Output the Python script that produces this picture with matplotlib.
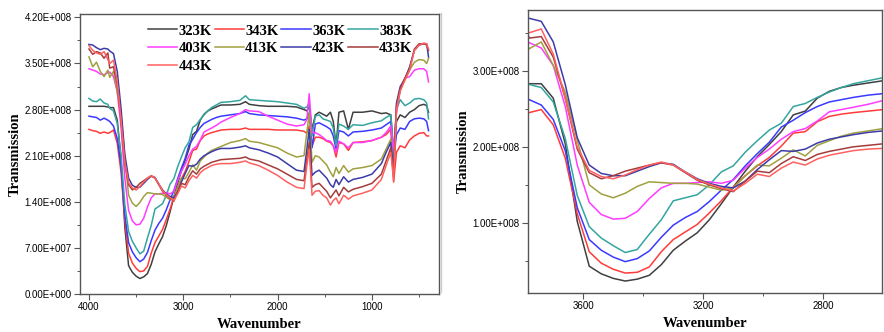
import matplotlib
matplotlib.use("Agg")
import matplotlib.pyplot as plt
from matplotlib.ticker import FixedLocator, FuncFormatter
from matplotlib.lines import Line2D

SCALE = 1e8
wavenumber = [4000, 3960, 3920, 3880, 3840, 3800,
              3780, 3740, 3700, 3660, 3620, 3580, 3540, 3500, 3460, 3420, 3380, 3340, 3300, 3260,
              3220, 3180, 3140, 3100, 3060, 3020, 2980, 2940, 2900, 2860, 2820, 2780, 2740, 2700, 2650, 2600,
              2500, 2400, 2340, 2300, 2200, 2100, 2000, 1900, 1800, 1720, 1690, 1665, 1635, 1600,
              1560, 1520, 1480, 1440, 1410, 1380, 1350, 1300, 1250, 1200, 1100, 1000, 900, 850, 800,
              770, 740, 700, 650, 600, 550, 500, 450, 420, 400]

t323 = [2.85, 2.85, 2.85, 2.85, 2.85, 2.84,
        2.83, 2.83, 2.64, 2.04, 1.02, 0.43, 0.33, 0.27, 0.235, 0.26, 0.31, 0.45, 0.64, 0.76,
        0.87, 1.04, 1.25, 1.47, 1.68, 1.87, 2.03, 2.20, 2.42, 2.47, 2.64, 2.73, 2.78, 2.81, 2.84, 2.87,
        2.87, 2.88, 2.92, 2.88, 2.86, 2.85, 2.85, 2.85, 2.84, 2.80, 2.78, 2.85, 2.50, 2.72,
        2.76, 2.73, 2.70, 2.76, 2.62, 2.25, 2.76, 2.78, 2.50, 2.76, 2.76, 2.78, 2.74, 2.75, 2.72,
        2.15, 2.62, 2.72, 2.68, 2.76, 2.80, 2.86, 2.88, 2.86, 2.76]
t343 = [2.50, 2.48, 2.47, 2.44, 2.46, 2.44,
        2.45, 2.49, 2.29, 1.85, 1.12, 0.62, 0.47, 0.39, 0.34, 0.35, 0.42, 0.62, 0.78, 0.88,
        0.98, 1.13, 1.29, 1.47, 1.62, 1.75, 1.86, 2.01, 2.18, 2.20, 2.33, 2.40, 2.43, 2.45, 2.47, 2.49,
        2.50, 2.50, 2.52, 2.50, 2.50, 2.50, 2.49, 2.49, 2.49, 2.47, 2.44, 2.55, 2.25, 2.38,
        2.38, 2.36, 2.32, 2.30, 2.25, 2.08, 2.30, 2.28, 2.18, 2.30, 2.31, 2.33, 2.38, 2.42, 2.50,
        1.70, 2.15, 2.25, 2.22, 2.34, 2.40, 2.44, 2.45, 2.40, 2.40]
t363 = [2.70, 2.69, 2.68, 2.64, 2.67, 2.64,
        2.62, 2.55, 2.36, 1.95, 1.20, 0.78, 0.64, 0.55, 0.49, 0.53, 0.63, 0.81, 0.97, 1.07,
        1.15, 1.28, 1.43, 1.57, 1.75, 1.91, 2.06, 2.26, 2.35, 2.45, 2.53, 2.59, 2.62, 2.65, 2.68, 2.70,
        2.72, 2.74, 2.77, 2.74, 2.72, 2.71, 2.70, 2.69, 2.67, 2.64, 2.66, 2.75, 2.22, 2.58,
        2.60, 2.57, 2.54, 2.50, 2.40, 2.20, 2.48, 2.46, 2.40, 2.46, 2.47, 2.49, 2.52, 2.57, 2.62,
        2.05, 2.42, 2.52, 2.50, 2.62, 2.66, 2.67, 2.66, 2.62, 2.48]
t383 = [2.97, 2.93, 2.92, 2.96, 2.90, 2.88,
        2.82, 2.78, 2.59, 2.11, 1.36, 0.95, 0.80, 0.70, 0.61, 0.65, 0.85, 1.04, 1.29, 1.33,
        1.37, 1.50, 1.67, 1.75, 1.93, 2.08, 2.22, 2.31, 2.53, 2.57, 2.65, 2.72, 2.78, 2.83, 2.87, 2.91,
        2.92, 2.94, 3.01, 2.95, 2.94, 2.93, 2.92, 2.90, 2.88, 2.82, 2.84, 2.90, 2.40, 2.70,
        2.72, 2.66, 2.64, 2.62, 2.52, 2.25, 2.58, 2.55, 2.50, 2.57, 2.56, 2.60, 2.63, 2.68, 2.72,
        2.12, 2.80, 2.95, 2.86, 2.90, 2.96, 2.97, 2.95, 2.90, 2.66]
t403 = [3.42, 3.40, 3.38, 3.34, 3.33, 3.36,
        3.37, 3.30, 3.07, 2.53, 1.76, 1.27, 1.11, 1.05, 1.06, 1.15, 1.32, 1.46, 1.52, 1.52,
        1.53, 1.54, 1.52, 1.56, 1.72, 1.86, 1.97, 2.10, 2.20, 2.24, 2.34, 2.46, 2.49, 2.52, 2.56, 2.61,
        2.68, 2.74, 2.80, 2.78, 2.77, 2.70, 2.64, 2.58, 2.55, 2.57, 2.65, 3.04, 2.45, 2.45,
        2.42, 2.38, 2.33, 2.32, 2.25, 2.15, 2.32, 2.28, 2.22, 2.30, 2.30, 2.33, 2.38, 2.45, 2.55,
        2.15, 2.75, 3.10, 3.28, 3.30, 3.40, 3.42, 3.42, 3.38, 3.22]
t413 = [3.60, 3.45, 3.52, 3.38, 3.30, 3.40,
        3.29, 3.38, 3.07, 2.72, 2.09, 1.50, 1.38, 1.33, 1.39, 1.48, 1.54, 1.53, 1.52, 1.52,
        1.51, 1.47, 1.43, 1.46, 1.62, 1.76, 1.75, 1.85, 1.96, 1.88, 2.02, 2.08, 2.14, 2.18, 2.21, 2.24,
        2.30, 2.33, 2.36, 2.32, 2.30, 2.26, 2.22, 2.14, 2.08, 2.10, 2.45, 2.75, 2.00, 2.10,
        2.08, 2.02, 1.96, 1.85, 1.78, 1.92, 1.83, 1.95, 1.85, 1.90, 1.92, 1.95, 2.05, 2.20, 2.35,
        1.90, 2.80, 3.10, 3.25, 3.40, 3.52, 3.56, 3.55, 3.50, 3.58]
t423 = [3.79, 3.78, 3.74, 3.71, 3.73, 3.72,
        3.69, 3.65, 3.38, 2.82, 2.12, 1.76, 1.65, 1.62, 1.62, 1.68, 1.74, 1.79, 1.77, 1.67,
        1.58, 1.52, 1.48, 1.46, 1.55, 1.70, 1.83, 1.95, 1.94, 1.97, 2.05, 2.10, 2.13, 2.16, 2.19, 2.21,
        2.21, 2.23, 2.25, 2.22, 2.19, 2.14, 2.08, 1.98, 1.88, 1.86, 2.20, 2.50, 1.80, 1.85,
        1.88, 1.82, 1.76, 1.66, 1.62, 1.74, 1.66, 1.78, 1.70, 1.74, 1.77, 1.82, 1.98, 2.15, 2.30,
        1.85, 2.90, 3.15, 3.27, 3.45, 3.70, 3.78, 3.80, 3.80, 3.60]
t433 = [3.72, 3.64, 3.68, 3.66, 3.58, 3.66,
        3.43, 3.45, 3.18, 2.64, 1.97, 1.66, 1.58, 1.62, 1.68, 1.72, 1.76, 1.79, 1.76, 1.66,
        1.56, 1.50, 1.45, 1.41, 1.55, 1.68, 1.66, 1.78, 1.87, 1.82, 1.90, 1.94, 1.97, 2.00, 2.02, 2.04,
        2.05, 2.06, 2.08, 2.05, 2.02, 1.96, 1.90, 1.82, 1.74, 1.72, 2.05, 2.30, 1.62, 1.66,
        1.68, 1.62, 1.56, 1.46, 1.52, 1.58, 1.49, 1.62, 1.55, 1.59, 1.63, 1.68, 1.82, 2.02, 2.22,
        1.78, 2.85, 3.12, 3.28, 3.42, 3.72, 3.80, 3.80, 3.78, 3.70]
t443 = [3.77, 3.70, 3.66, 3.64, 3.68, 3.56,
        3.50, 3.55, 3.22, 2.64, 2.00, 1.69, 1.61, 1.58, 1.63, 1.70, 1.76, 1.80, 1.76, 1.67,
        1.57, 1.51, 1.46, 1.42, 1.52, 1.64, 1.61, 1.72, 1.80, 1.76, 1.84, 1.89, 1.92, 1.95, 1.97, 1.98,
        1.98, 2.00, 2.02, 1.99, 1.95, 1.88, 1.80, 1.70, 1.62, 1.60, 1.95, 2.20, 1.50, 1.56,
        1.57, 1.50, 1.46, 1.35, 1.42, 1.46, 1.37, 1.50, 1.44, 1.49, 1.53, 1.58, 1.74, 1.95, 2.15,
        1.72, 2.80, 3.08, 3.25, 3.40, 3.70, 3.78, 3.81, 3.80, 3.72]

labels = ["323K", "343K", "363K", "383K", "403K", "413K", "423K", "433K", "443K"]
series = [t323, t343, t363, t383, t403, t413, t423, t433, t443]
colors = ["#404040", "#ff3b3b", "#3a3aff", "#35a5a0", "#ff3cff", "#a0a040", "#3c3ca8", "#a53c3c", "#ff6060"]

left_yticks = [0.0, 0.7, 1.4, 2.1, 2.8, 3.5, 4.2]
left_xticks = [4000, 3000, 2000, 1000]
right_yticks = [1.0, 2.0, 3.0]
right_xticks = [3600, 3200, 2800]

def sci_fmt(v, pos):
    if v == 0:
        return "0.00E+000"
    e = 0
    m = abs(v)
    while m >= 10:
        m /= 10
        e += 1
    while m < 1:
        m *= 10
        e -= 1
    return f"{m:.2f}E+{e:03d}"

fig = plt.figure(figsize=(8.84, 3.32), dpi=100)
ax1 = fig.add_axes([0.0905, 0.1145, 0.406, 0.843])
ax2 = fig.add_axes([0.597, 0.118, 0.4005, 0.852])

handles = []
for ys, lab, c in zip(series, labels, colors):
    vals = [y * SCALE for y in ys]
    h, = ax1.plot(wavenumber, vals, color=c, lw=1.1, label=lab)
    ax2.plot(wavenumber, vals, color=c, lw=1.1)
    handles.append(h)

labfont = dict(family="Liberation Serif", weight="bold", size=10.5)

ax1.set_xlim(4095, 290)
ax1.set_ylim(0, 4.25e8)
ax1.yaxis.set_major_locator(FixedLocator([v * SCALE for v in left_yticks]))
ax1.yaxis.set_minor_locator(FixedLocator([(v + 0.35) * SCALE for v in left_yticks[:-1]]))
ax1.xaxis.set_major_locator(FixedLocator(left_xticks))
ax1.xaxis.set_minor_locator(FixedLocator([3500, 2500, 1500, 500]))
ax1.set_ylabel("Transmission", **labfont, labelpad=2)
ax1.set_xlabel("Wavenumber", **labfont, labelpad=4)

ax2.set_xlim(3785, 2605)
ax2.set_ylim(0.08e8, 3.8e8)
ax2.yaxis.set_major_locator(FixedLocator([v * SCALE for v in right_yticks]))
ax2.yaxis.set_minor_locator(FixedLocator([0.5e8, 1.5e8, 2.5e8, 3.5e8]))
ax2.xaxis.set_major_locator(FixedLocator(right_xticks))
ax2.xaxis.set_minor_locator(FixedLocator([3400, 3000]))
ax2.set_ylabel("Transmission", **labfont, labelpad=2)
ax2.set_xlabel("Wavenumber", **labfont, labelpad=4)

for ax in (ax1, ax2):
    ax.yaxis.set_major_formatter(FuncFormatter(sci_fmt))
    ax.tick_params(which="major", direction="out", length=4, width=0.8, color="#555555", pad=2)
    ax.tick_params(which="minor", direction="out", length=2.5, width=0.7, color="#555555")
    for lbl in ax.get_xticklabels() + ax.get_yticklabels():
        lbl.set_fontfamily("Liberation Sans")
        lbl.set_fontsize(7)
    for sp in ax.spines.values():
        sp.set_color("#555555")
        sp.set_linewidth(1.0)

order = [0, 4, 8, 1, 5, 2, 6, 3, 7]
leg = ax1.legend([handles[i] for i in order], [labels[i] for i in order],
                 ncol=4, loc="upper left", bbox_to_anchor=(0.16, 1.0), frameon=False,
                 prop=dict(family="Liberation Serif", weight="bold", size=10.5),
                 handlelength=2.0, handletextpad=0.1, columnspacing=0.2,
                 labelspacing=0.3, borderaxespad=0.3)

fig.add_artist(Line2D([0.4985, 0.4985], [0.12, 0.96], color="#cccccc", lw=1.0))

fig.savefig("out.png", dpi=100)
